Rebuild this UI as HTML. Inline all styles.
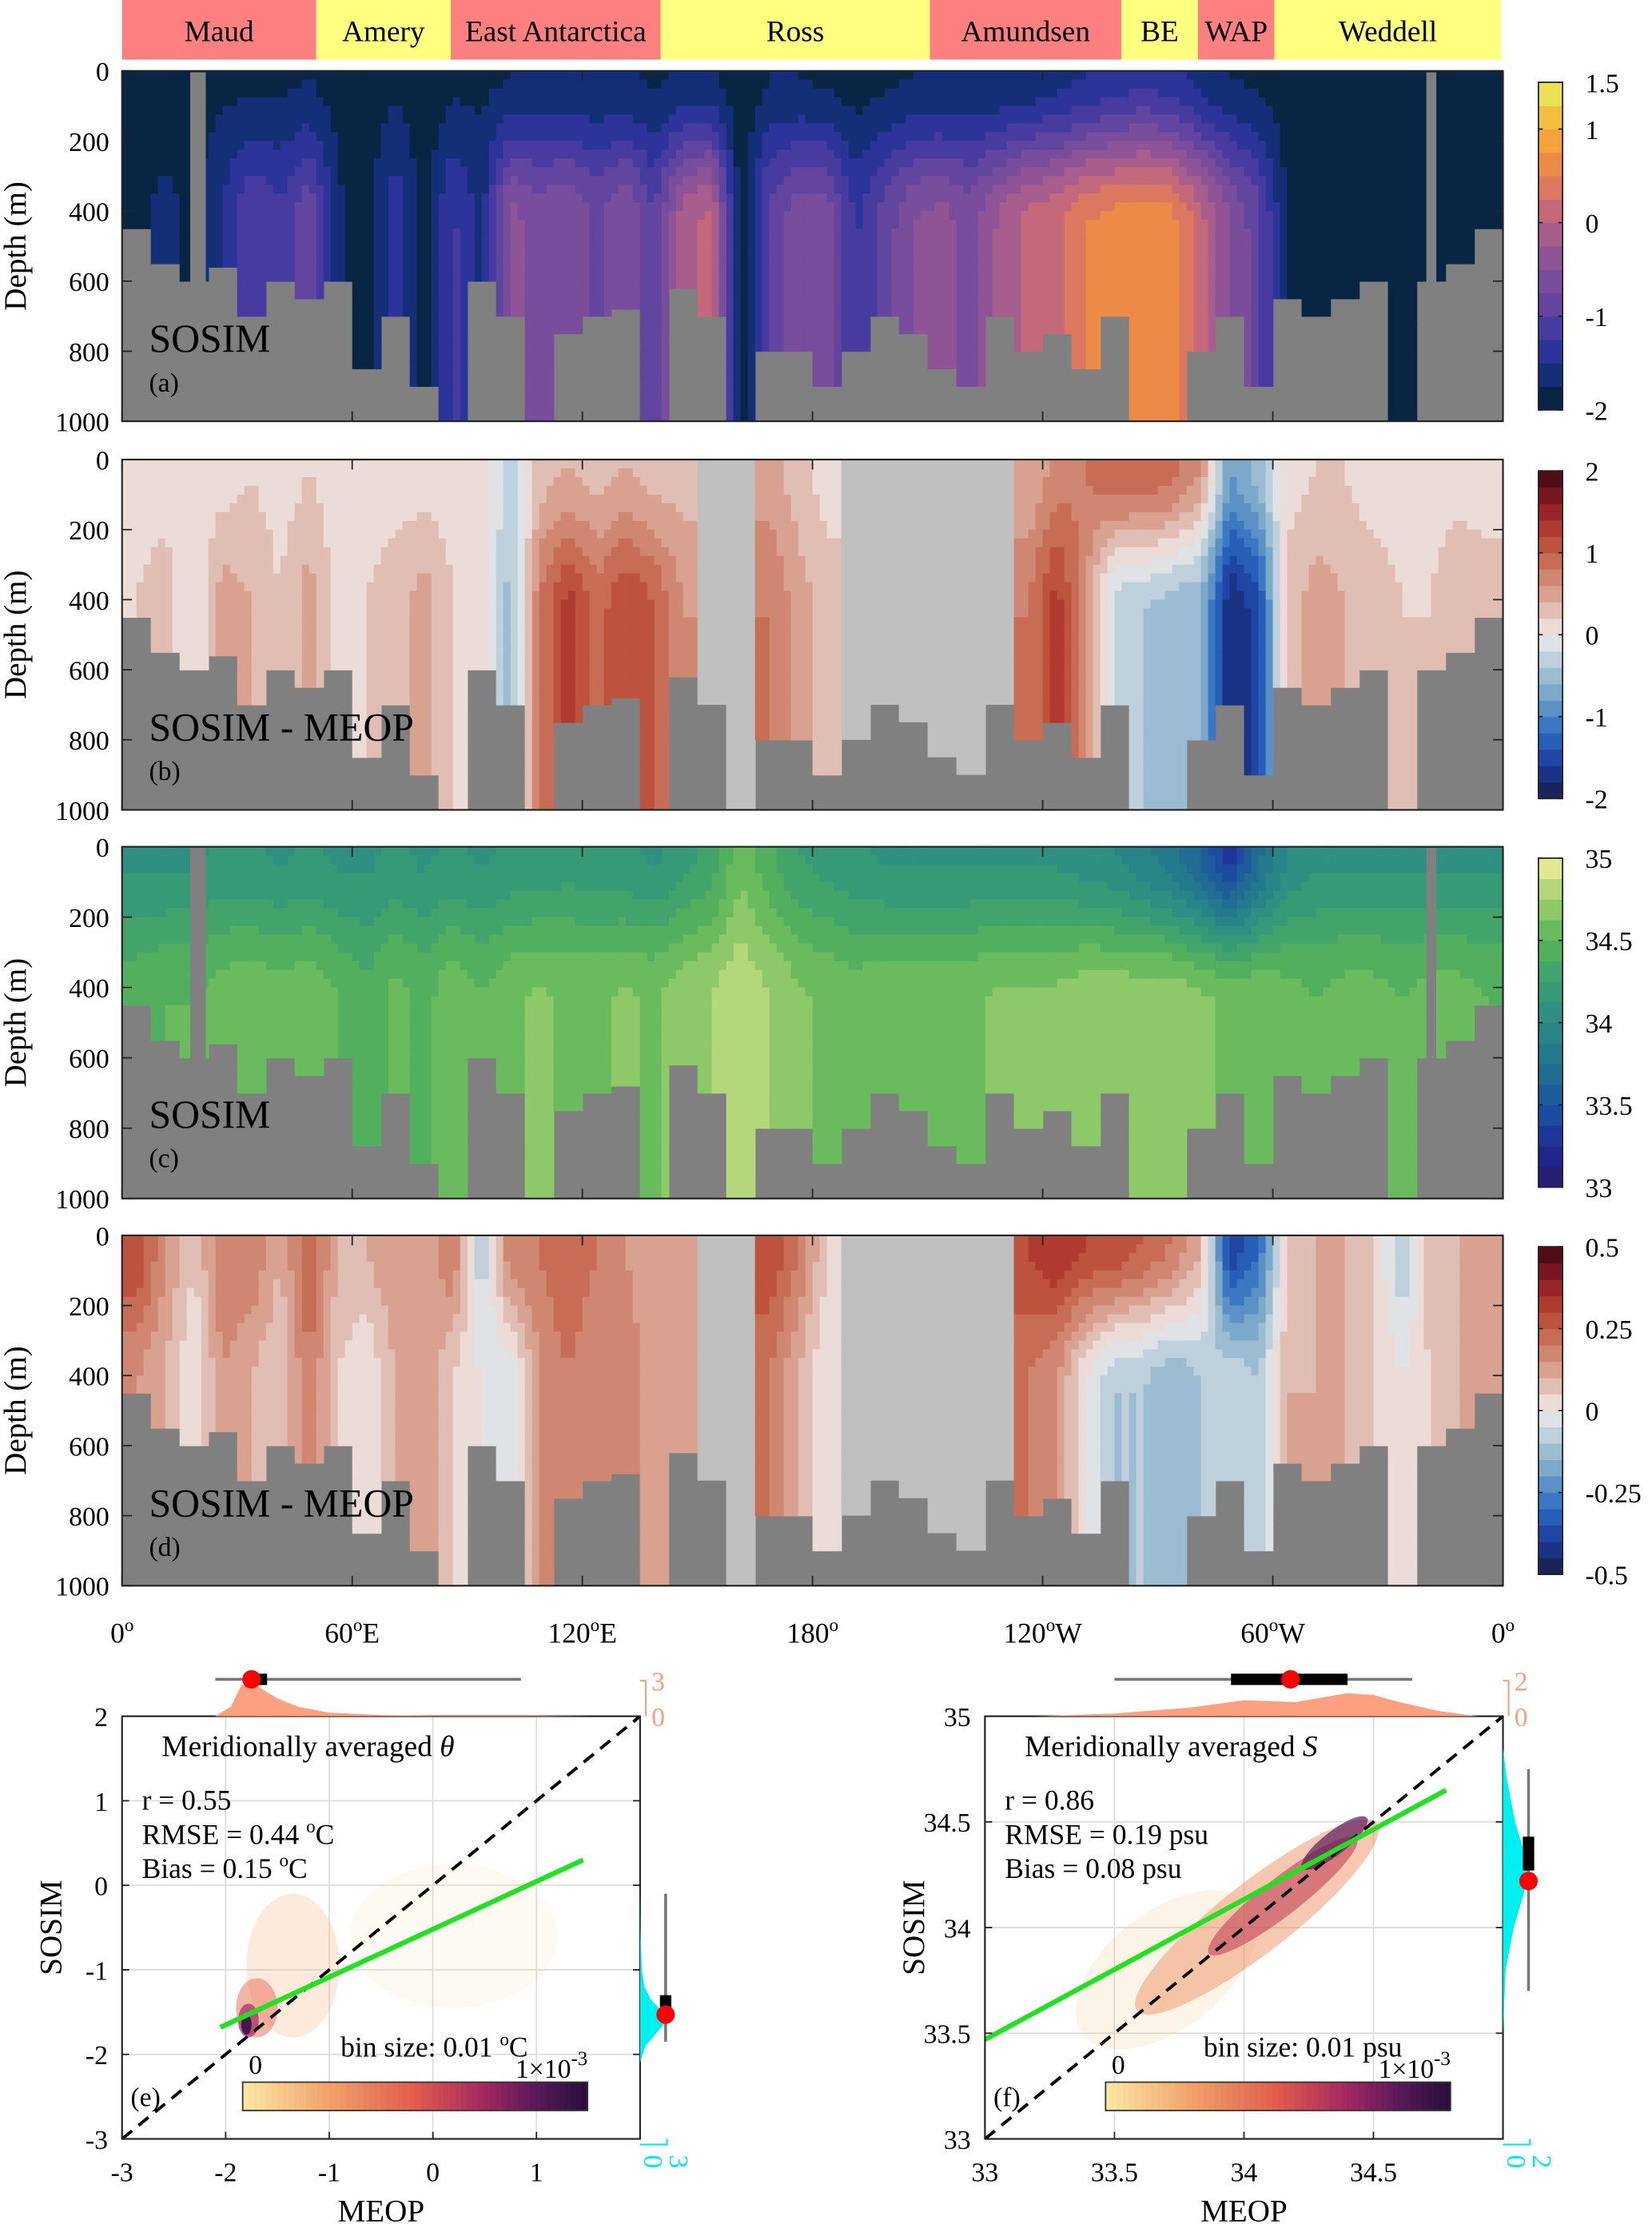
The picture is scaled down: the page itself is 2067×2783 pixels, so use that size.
<!DOCTYPE html>
<html><head><meta charset="utf-8">
<style>
html,body{margin:0;padding:0;background:#fff;}
svg{display:block;}
svg text{font-family:"Liberation Serif","DejaVu Serif",serif;}
</style></head>
<body>
<svg id="fig" width="2067" height="2783" viewBox="0 0 1164 1568" preserveAspectRatio="none" xmlns="http://www.w3.org/2000/svg" font-family="Liberation Serif, serif">
<rect x="0" y="0" width="1164" height="1568" fill="#fff"/>
</svg>
<script>
// ---------- data ----------
const regionNames = ["Maud","Amery","East Antarctica","Ross","Amundsen","BE","WAP","Weddell"];
const regionLonEdges = [0,50.6,85.7,140.4,210.6,260.5,280.5,300.4,359.6];
const bathy = [450,550,600,560,700,600,650,600,850,700,900,1000,600,700,1000,750,700,680,1000,620,700,1000,800,800,900,800,700,750,850,900,700,800,750,850,700,1000,1000,800,700,900,650,700,650,600,1000,600,550,450];
const thetaSurf = [-1.85,-1.85,-1.85,-1.8,-1.8,-1.8,-1.75,-1.85,-1.9,-1.8,-1.9,-1.8,-1.8,-1.75,-1.75,-1.7,-1.75,-1.7,-1.8,-1.7,-1.7,-1.95,-1.75,-1.75,-1.8,-1.85,-1.8,-1.75,-1.75,-1.75,-1.75,-1.7,-1.6,-1.5,-1.4,-1.3,-1.4,-1.6,-1.75,-1.8,-1.9,-1.95,-1.9,-1.9,-1.95,-1.85,-1.85,-1.9];
const thetaDeep = [-1.8,-1.7,-1.8,-1.5,-1.0,-1.2,-0.8,-1.7,-1.9,-1.3,-1.9,-1.2,-1.6,-0.4,-0.6,-0.5,-0.8,-0.5,-1.0,-0.1,0.1,-1.9,-0.9,-0.6,-0.6,-1.3,-0.9,-0.5,-0.4,-0.6,-0.2,0.1,0.2,0.5,0.6,0.7,0.6,0.1,-0.5,-0.9,-1.8,-1.9,-1.8,-1.9,-1.95,-1.8,-1.8,-1.9];
const dThetaSurf = [0.1,0.1,0.1,0.1,0.2,0.1,0.2,0.1,0.1,0.1,0.1,0.1,0.1,-0.3,0.3,0.4,0.3,0.4,0.3,0.3,null,null,0.5,0.3,0.1,null,null,null,null,null,null,0.4,0.7,0.8,1.0,1.0,0.9,0.6,-0.8,-0.5,0.1,0.2,0.2,0.1,0.1,0.1,0.1,0.1];
const dThetaDeep = [0.2,0.3,0,0.5,0.4,0.2,0.5,0.1,0.2,0.3,0.5,0.2,0.1,-0.5,0.8,1.3,0.9,1.2,1.0,0.6,null,null,0.8,0.5,0.3,null,null,null,null,null,null,0.8,1.3,0.6,-0.3,-0.4,-0.5,-0.6,-1.8,-1.5,0.3,0.5,0.4,0.3,0.2,0.2,0.4,0.3];
const saltSurf = [34.1,34.1,34.1,34.15,34.15,34.1,34.15,34.1,34.1,34.15,34.1,34.15,34.1,34.15,34.15,34.2,34.15,34.15,34.1,34.2,34.3,34.6,34.4,34.25,34.2,34.15,34.1,34.1,34.1,34.1,34.1,34.1,34.1,34.05,34.0,33.9,33.8,33.6,33.3,33.7,34.0,34.1,34.1,34.1,34.1,34.1,34.1,34.1];
const saltDeep = [34.45,34.5,34.5,34.55,34.6,34.55,34.6,34.5,34.4,34.55,34.45,34.6,34.5,34.6,34.65,34.6,34.6,34.65,34.6,34.7,34.75,34.85,34.75,34.65,34.6,34.55,34.6,34.6,34.6,34.6,34.65,34.65,34.65,34.7,34.7,34.7,34.7,34.65,34.6,34.6,34.55,34.5,34.55,34.55,34.5,34.55,34.55,34.5];
const dSaltSurf = [0.3,0.15,0.05,0.2,0.2,0.1,0.25,0.1,0.1,0.15,0.1,0.2,-0.1,0.2,0.2,0.25,0.2,0.15,0.1,0.1,null,null,0.3,0.2,0.05,null,null,null,null,null,null,0.3,0.35,0.3,0.3,0.25,0.2,0.1,-0.4,-0.3,0.05,0.1,0.1,0.05,-0.1,0.1,0.1,0.1];
const dSaltDeep = [0.15,0.1,0.0,0.15,0.1,0.05,0.2,0.05,0.0,0.1,0.15,0.05,0.0,-0.05,0.15,0.2,0.15,0.2,0.1,0.1,null,null,0.2,0.1,0.0,null,null,null,null,null,null,0.2,0.15,0.0,-0.1,-0.1,-0.15,-0.1,-0.05,-0.1,0.1,0.1,0.1,0.05,0.0,0.05,0.1,0.1];
const depthTicks = [0,200,400,600,800,1000];
const lonTicks = [0,60,120,180,240,300,360];
const lonTickLabels = ["0","60","120","180","120","60","0"];
const lonTickSuffix = ["","E","E","","W","W",""];
const cbTicksA = [1.5,1,0,-1,-2], cbTicksB=[2,1,0,-1,-2], cbTicksC=[35,34.5,34,33.5,33], cbTicksD=[0.5,0.25,0,-0.25,-0.5];
// scatter (e)
const eXTicks=[-3,-2,-1,0,1], eYTicks=[2,1,0,-1,-2,-3];
const eFit=[[-2.05,-1.68],[1.45,0.3]];
const eBlobCx=[0.2,-1.35,-1.7,-1.78,-1.8], eBlobCy=[-0.6,-0.95,-1.45,-1.6,-1.65], eBlobRx=[1.0,0.45,0.2,0.1,0.05], eBlobRy=[0.85,0.85,0.35,0.2,0.12], eBlobLevel=[0.1,0.2,0.45,0.7,0.95], eBlobOp=[0.12,0.25,0.5,0.7,0.9];
const eTopKdeX=[-2.1,-1.95,-1.85,-1.75,-1.65,-1.5,-1.3,-1.0,-0.5,0,1,1.5], eTopKdeD=[0,0.8,2.6,2.9,2.3,1.5,0.8,0.3,0.1,0.05,0.05,0];
const eRightKdeY=[-2.1,-1.9,-1.75,-1.6,-1.5,-1.35,-1.2,-1.0,-0.5,0], eRightKdeD=[0,0.6,1.8,3.0,2.5,1.2,0.5,0.2,0.05,0];
const eTopBox=[-2.1,-1.8,-1.75,-1.6,0.85], eRightBox=[-1.85,-1.53,-1.53,-1.3,-0.1];
// scatter (f)
const fXTicks=[33,33.5,34,34.5], fYTicks=[35,34.5,34,33.5,33];
const fFit=[[33,33.47],[34.78,34.65]];
const fBlobCx=[33.7,34.05,34.15,34.35], fBlobCy=[33.8,34.05,34.15,34.4], fBlobLen=[0.9,1.3,0.8,0.35], fBlobW=[0.5,0.3,0.16,0.1], fBlobLevel=[0.1,0.3,0.6,0.85], fBlobOp=[0.2,0.5,0.6,0.7];
const fTopKdeX=[33.2,33.5,33.8,34.0,34.2,34.4,34.5,34.6,34.75,34.9], fTopKdeD=[0,0.15,0.5,0.9,0.8,1.3,1.2,0.8,0.3,0];
const fRightKdeY=[33.5,33.8,34.0,34.15,34.25,34.35,34.5,34.7,34.85], fRightKdeD=[0,0.2,0.8,1.5,1.9,1.6,0.9,0.3,0];
const fTopBox=[33.5,33.95,34.18,34.4,34.65], fRightBox=[33.7,34.27,34.22,34.43,34.75];

// ---------- helpers ----------
const NS="http://www.w3.org/2000/svg";
const svg=document.getElementById('fig');
function el(tag,parent){const e=document.createElementNS(NS,tag);(parent||svg).appendChild(e);return e;}
function at(e,o){for(const k in o)e.setAttribute(k,o[k]);return e;}
function txt(parent,x,y,s,size,anchor,fill){const t=el('text',parent);at(t,{x:x,y:y,'font-size':size,'text-anchor':anchor||'start',fill:fill||'#000','font-family':'Liberation Serif, serif'});t.textContent=s;return t;}
function hex(c){return [parseInt(c.slice(1,3),16),parseInt(c.slice(3,5),16),parseInt(c.slice(5,7),16)];}
function cmap(stops,t){t=Math.max(0,Math.min(1,t));for(let i=1;i<stops.length;i++){if(t<=stops[i][0]){const a=stops[i-1],b=stops[i];const f=(t-a[0])/(b[0]-a[0]);const ca=hex(a[1]),cb=hex(b[1]);return 'rgb('+ca.map((v,j)=>Math.round(v+(cb[j]-v)*f)).join(',')+')';}}return stops[stops.length-1][1];}
const thermal=[[0,'#04202c'],[0.07,'#0b2b5c'],[0.14,'#1c3290'],[0.21,'#3a36a0'],[0.3,'#5a42a0'],[0.4,'#7a4e9c'],[0.5,'#9a5893'],[0.57,'#b46385'],[0.64,'#d06e70'],[0.72,'#e8804f'],[0.8,'#f49a3c'],[0.88,'#f6b840'],[1,'#e6f25c']];
const balance=[[0,'#181c43'],[0.1,'#1b3a9a'],[0.2,'#2b6ac0'],[0.3,'#6a9fc6'],[0.4,'#adc6d6'],[0.5,'#f1ecea'],[0.6,'#dcaea0'],[0.7,'#cc7a62'],[0.8,'#b84433'],[0.9,'#8f1a25'],[1,'#3c0912']];
const haline=[[0,'#2a1864'],[0.12,'#1e2a9a'],[0.25,'#1c55a0'],[0.37,'#22728f'],[0.5,'#2b8a85'],[0.62,'#3a9e72'],[0.75,'#58b558'],[0.87,'#9ccd6e'],[1,'#f5f0a0']];
const matter=[[0,'#fbe6a4'],[0.25,'#f0a06a'],[0.5,'#e05c4c'],[0.7,'#a42860'],[0.85,'#5a1a5a'],[1,'#2a0f3c']];

const X0=86,X1=1059;
function lonX(l){return X0+l/360*(X1-X0);}

// ---------- region bar ----------
const rb=el('g');


regionNames.forEach((n,i)=>{
  const x=lonX(regionLonEdges[i]),w=lonX(regionLonEdges[i+1])-x;
  const r=el('rect',rb);at(r,{x:x,y:0,width:w,height:42,fill:i%2==0?'#fc8080':'#ffff80'});
  
  
  const t=txt(rb,x+w/2,29,n,21,'middle');
  
  
});

// ---------- section panels ----------
function smooth(d){let t=Math.min(1,d/450);return t*t*(3-2*t);}
function colVal(arr,p){const n=arr.length;let i0=Math.floor(p),i1=i0+1;const f=p-i0;i0=Math.max(0,Math.min(n-1,i0));i1=Math.max(0,Math.min(n-1,i1));let a=arr[i0],b=arr[i1];if(a==null&&b==null)return null;if(a==null)a=b;if(b==null)b=a;return a+(b-a)*f;}
function panel(name,y0,y1,surf,deep,vmin,vmax,nlev,stops,label,letter,cbTicks,cbFmt,gaps){
  const g=el('g');
  
  
  const H=y1-y0,W=X1-X0,n=bathy.length,cw=W/n,sub=4,nb=40;
  const bg=el('rect',g);at(bg,{x:X0,y:y0,width:W,height:H,fill:'#808080'});
  
  
  const dy=v=>y0+v/1000*H;
  for(let i=0;i<n;i++){
    const own=deep[i];
    if(own==null){
      const r=el('rect',g);at(r,{x:X0+i*cw,y:y0,width:cw+0.5,height:dy(bathy[i])-y0,fill:'#c0c0c0'});
      
      
      continue;
    }
    for(let k=0;k<sub;k++){
      const p=i+(k+0.5)/sub-0.5;
      const s=colVal(surf,p),dp=colVal(deep,p);
      for(let b=0;b<nb;b++){
        const d0=b*25;if(d0>=bathy[i])break;
        const dm=d0+12.5;const v=s+(dp-s)*smooth(dm);
        let lev=Math.floor((v-vmin)/(vmax-vmin)*nlev);lev=Math.max(0,Math.min(nlev-1,lev));
        const r=el('rect',g);
        at(r,{x:(X0+i*cw+k*cw/sub).toFixed(2),y:dy(d0).toFixed(2),width:(cw/sub+0.4).toFixed(2),height:(Math.min(25,bathy[i]-d0)/1000*H+0.4).toFixed(2),fill:cmap(stops,(lev+0.5)/nlev)});
        
        
      }
    }
  }
  if(gaps){[[134,145],[1005,1012]].forEach(([a,b])=>{const r=el('rect',g);at(r,{x:a,y:y0+1,width:b-a,height:H-2,fill:'#808080'});
    
    });}
  // frame & ticks
  const fr=el('rect',g);at(fr,{x:X0,y:y0,width:W,height:H,fill:'none',stroke:'#222','stroke-width':1.2});
  
  
  depthTicks.forEach(d=>{
    const y=dy(d);
    const l=el('path',g);at(l,{d:`M${X0} ${y}h7M${X1} ${y}h-7`,stroke:'#222','stroke-width':1});
    const t=txt(g,77,y+7,String(d),19,'end');
    
    
  });
  lonTicks.forEach(l=>{const x=lonX(l);const p=el('path',g);at(p,{d:`M${x} ${y1}v-7M${x} ${y0}v7`,stroke:'#222','stroke-width':1});});
  const yl=txt(g,0,0,'Depth (m)',22,'middle');at(yl,{transform:`translate(18 ${(y0+y1)/2}) rotate(-90)`});
  
  
  const lb=txt(g,105,y0+198,label,28);
  
  
  const lt=txt(g,105,y0+226,letter,19);
  
  
  // colorbar
  const cy0=y0+8,cy1=y1-8,ch=(cy1-cy0)/nlev;
  const cb=el('g',g);
  
  
  for(let j=0;j<nlev;j++){const r=el('rect',cb);at(r,{x:1084,y:cy1-(j+1)*ch,width:17,height:ch+0.3,fill:cmap(stops,(j+0.5)/nlev)});}
  const cf=el('rect',cb);at(cf,{x:1084,y:cy0,width:17,height:cy1-cy0,fill:'none',stroke:'#222','stroke-width':1});
  cbTicks.forEach(v=>{const y=cy1-(v-vmin)/(vmax-vmin)*(cy1-cy0);const p=el('path',cb);at(p,{d:`M1084 ${y}h3M1101 ${y}h-3`,stroke:'#222'});
    const t=txt(cb,1117,y+7,cbFmt(v),19);
    
    });
}
const fmt=v=>String(v);
panel('panel-a-theta',50,297,thetaSurf,thetaDeep,-2,1.5,14,thermal,'SOSIM','(a)',cbTicksA,fmt,true);
panel('panel-b-theta-diff',324,571,dThetaSurf,dThetaDeep,-2,2,20,balance,'SOSIM - MEOP','(b)',cbTicksB,fmt,false);
panel('panel-c-salinity',597,845,saltSurf,saltDeep,33,35,16,haline,'SOSIM','(c)',cbTicksC,fmt,true);
panel('panel-d-salinity-diff',871,1118,dSaltSurf,dSaltDeep,-0.5,0.5,20,balance,'SOSIM - MEOP','(d)',cbTicksD,fmt,false);
// longitude labels
lonTicks.forEach((l,i)=>{const t=el('text');at(t,{x:lonX(l),y:1158,'font-size':20,'text-anchor':'middle','font-family':'Liberation Serif, serif'});
  
  
  t.innerHTML=lonTickLabels[i]+'<tspan dy="-8" font-size="13">o</tspan><tspan dy="8">'+lonTickSuffix[i]+'</tspan>';});

// ---------- scatter panels ----------
function scatter(name,ax0,ax1,ay0,ay1,xmin,xmax,ymin,ymax,xt,yt,fit,drawBlobs,topX,topD,topMax,rightY,rightD,rightMax,topBox,rightBox,title,stats,bin,letter){
  const g=el('g');
  
  
  const sx=v=>ax0+(v-xmin)/(xmax-xmin)*(ax1-ax0), sy=v=>ay1-(v-ymin)/(ymax-ymin)*(ay1-ay0);
  xt.forEach(v=>{const p=el('path',g);at(p,{d:`M${sx(v)} ${ay0}V${ay1}`,stroke:'#ddd','stroke-width':1});});
  yt.forEach(v=>{const p=el('path',g);at(p,{d:`M${ax0} ${sy(v)}H${ax1}`,stroke:'#ddd','stroke-width':1});});
  drawBlobs(g,sx,sy);
  const d1=el('line',g);at(d1,{x1:sx(Math.max(xmin,ymin)),y1:sy(Math.max(xmin,ymin)),x2:sx(Math.min(xmax,ymax)),y2:sy(Math.min(xmax,ymax)),stroke:'#000','stroke-width':2.2,'stroke-dasharray':'9 6'});
  
  
  const fl=el('line',g);at(fl,{x1:sx(fit[0][0]),y1:sy(fit[0][1]),x2:sx(fit[1][0]),y2:sy(fit[1][1]),stroke:'#22e022','stroke-width':3.5});
  
  
  const fr=el('rect',g);at(fr,{x:ax0,y:ay0,width:ax1-ax0,height:ay1-ay0,fill:'none',stroke:'#222','stroke-width':1.2});
  
  
  xt.forEach(v=>{const p=el('path',g);at(p,{d:`M${sx(v)} ${ay1}v-5`,stroke:'#222'});
    const t=txt(g,sx(v),ay1+30,String(v),19,'middle');
    
    });
  yt.forEach(v=>{const p=el('path',g);at(p,{d:`M${ax0} ${sy(v)}h5M${ax1} ${sy(v)}h-5`,stroke:'#222'});
    const t=txt(g,ax0-10,sy(v)+7,String(v),19,'end');
    
    });
  const xl=txt(g,(ax0+ax1)/2,1566,'MEOP',22,'middle');
  
  
  const yl=txt(g,0,0,'SOSIM',22,'middle');at(yl,{transform:`translate(${ax0-43} ${(ay0+ay1)/2}) rotate(-90)`});
  
  
  const tp=['M'+sx(topX[0])+' '+ay0];topX.forEach((x,i)=>tp.push('L'+sx(x)+' '+(ay0-topD[i]/topMax*25)));tp.push('L'+sx(topX[topX.length-1])+' '+ay0+'Z');
  const tk=el('path',g);at(tk,{d:tp.join(''),fill:'#fca080'});
  
  
  const rp=['M'+ax1+' '+sy(rightY[0])];rightY.forEach((y,i)=>rp.push('L'+(ax1+rightD[i]/rightMax*19)+' '+sy(y)));rp.push('L'+ax1+' '+sy(rightY[rightY.length-1])+'Z');
  const rk=el('path',g);at(rk,{d:rp.join(''),fill:'#00f0f0'});
  
  
  const oa=el('path',g);at(oa,{d:`M${ax1+4} ${ay0}V${ay0-25}h-4`,stroke:'#fca080',fill:'none','stroke-width':1.2});
  const o1=txt(g,ax1+8,ay0+7,'0',19,'start','#fca080');
  const o2=txt(g,ax1+8,ay0-18,String(topMax),19,'start','#fca080');
  const ca=el('path',g);at(ca,{d:`M${ax1} ${ay1+4}H${ax1+19}v-4`,stroke:'#00e8f0',fill:'none','stroke-width':1.2});
  const c1=txt(g,0,0,'0',19,'middle','#00e8f0');at(c1,{transform:`translate(${ax1+3} ${ay1+16}) rotate(90)`});
  const c2=txt(g,0,0,String(rightMax),19,'middle','#00e8f0');at(c2,{transform:`translate(${ax1+21} ${ay1+16}) rotate(90)`});
  const by=1184;
  const bt=el('g',g);
  at(el('line',bt),{x1:sx(topBox[0]),x2:sx(topBox[4]),y1:by,y2:by,stroke:'#777','stroke-width':2});
  at(el('rect',bt),{x:sx(topBox[1]),y:by-4,width:sx(topBox[3])-sx(topBox[1]),height:8,fill:'#000'});
  at(el('circle',bt),{cx:sx(topBox[2]),cy:by,r:6.5,fill:'#f00'});
  const bx=ax1+18;
  const br=el('g',g);
  at(el('line',br),{x1:bx,x2:bx,y1:sy(rightBox[0]),y2:sy(rightBox[4]),stroke:'#777','stroke-width':2});
  at(el('rect',br),{x:bx-4,y:sy(rightBox[3]),width:8,height:sy(rightBox[1])-sy(rightBox[3]),fill:'#000'});
  at(el('circle',br),{cx:bx,cy:sy(rightBox[2]),r:6.5,fill:'#f00'});
  const tt=el('text',g);at(tt,{x:ax0+28,y:ay0+28,'font-size':21,'font-family':'Liberation Serif, serif'});tt.innerHTML=title;
  
  stats.forEach((s,i)=>{const t=el('text',g);at(t,{x:ax0+14,y:ay0+66+i*24,'font-size':20,'font-family':'Liberation Serif, serif'});t.innerHTML=s;
    });
  const bs=el('text',g);at(bs,{x:ax0+154,y:ay0+240,'font-size':20,'font-family':'Liberation Serif, serif'});bs.innerHTML=bin;
  
  const le=txt(g,ax0+6,ay0+275,letter,19);
  const cg=el('g',g);
  const cx0=ax0+85,cw=243,cyy=ay0+258;
  for(let j=0;j<60;j++){at(el('rect',cg),{x:cx0+j*cw/60,y:cyy,width:cw/60+0.4,height:20,fill:cmap(matter,j/59)});}
  at(el('rect',cg),{x:cx0,y:cyy,width:cw,height:20,fill:'none',stroke:'#333'});
  txt(cg,cx0+9,cyy-6,'0',19,'middle');
  const ex=el('text',cg);at(ex,{x:cx0+cw,y:cyy-3,'font-size':19,'text-anchor':'end','font-family':'Liberation Serif, serif'});ex.innerHTML='1×10<tspan dy="-9" font-size="14">-3</tspan>';
}
scatter('panel-e-theta-scatter',86,451,1210,1508,-3,2,-3,2,eXTicks,eYTicks,eFit,(g,sx,sy)=>{
  eBlobCx.forEach((c,i)=>{const e=el('ellipse',g);at(e,{cx:sx(c),cy:sy(eBlobCy[i]),rx:eBlobRx[i]*73,ry:eBlobRy[i]*59.6,fill:cmap(matter,eBlobLevel[i]),opacity:eBlobOp[i]});
    });
},eTopKdeX,eTopKdeD,3,eRightKdeY,eRightKdeD,3,eTopBox,eRightBox,'Meridionally averaged <tspan font-style="italic">θ</tspan>',['r = 0.55','RMSE = 0.44 <tspan dy="-8" font-size="13">o</tspan><tspan dy="8">C</tspan>','Bias = 0.15 <tspan dy="-8" font-size="13">o</tspan><tspan dy="8">C</tspan>'],'bin size: 0.01 <tspan dy="-8" font-size="13">o</tspan><tspan dy="8">C</tspan>','(e)');
scatter('panel-f-salinity-scatter',694,1059,1210,1508,33,35,33,35,fXTicks,fYTicks,fFit,(g,sx,sy)=>{
  fBlobCx.forEach((c,i)=>{const cx=sx(c),cy=sy(fBlobCy[i]);const L=fBlobLen[i]*165/2,Wd=fBlobW[i]*165/2;const e=el('ellipse',g);at(e,{cx:cx,cy:cy,rx:L,ry:Wd,fill:cmap(matter,fBlobLevel[i]),opacity:fBlobOp[i],transform:`rotate(-38 ${cx} ${cy})`});
    });
},fTopKdeX,fTopKdeD,2,fRightKdeY,fRightKdeD,2,fTopBox,fRightBox,'Meridionally averaged <tspan font-style="italic">S</tspan>',['r = 0.86','RMSE = 0.19 psu','Bias = 0.08 psu'],'bin size: 0.01 psu','(f)');
</script>
</body></html>
